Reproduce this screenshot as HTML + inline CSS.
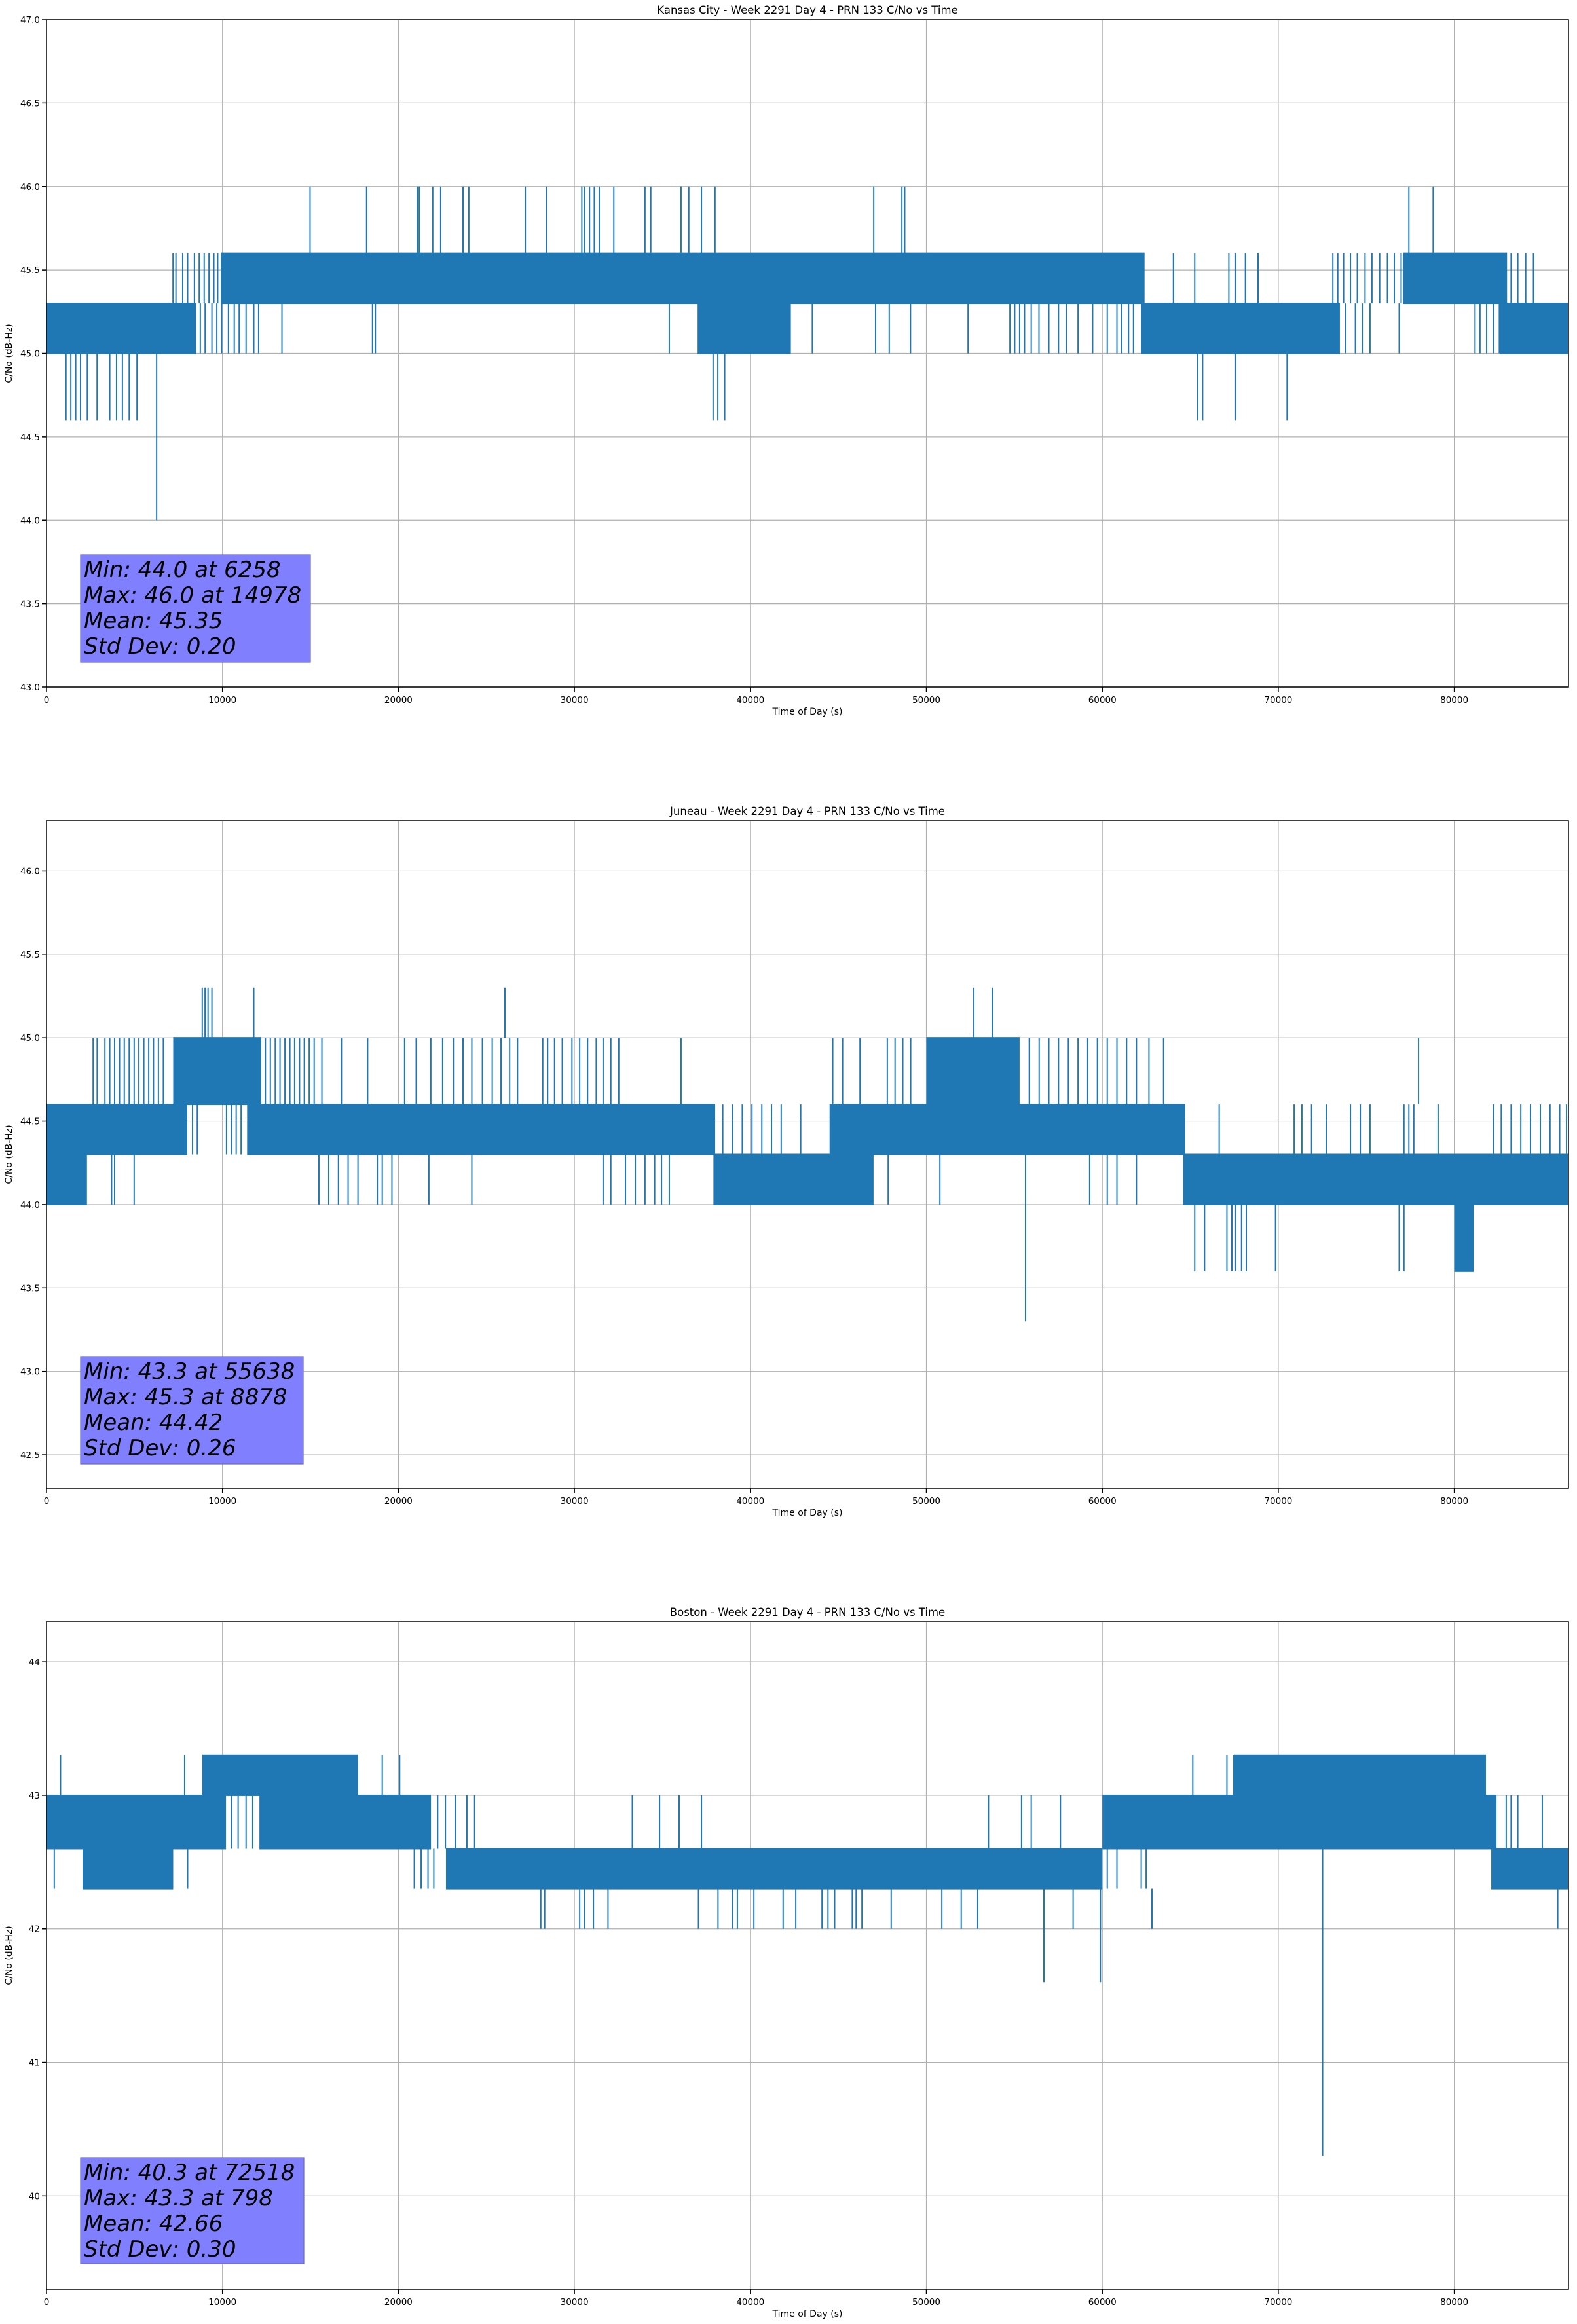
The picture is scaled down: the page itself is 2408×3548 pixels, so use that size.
<!DOCTYPE html>
<html><head><meta charset="utf-8">
<style>
html,body{margin:0;padding:0;background:#fff;}
svg{display:block;font-family:"DejaVu Sans","Liberation Sans",sans-serif;}
</style></head>
<body>
<svg id="fig" width="2408" height="3548" viewBox="0 0 2408 3548" xmlns="http://www.w3.org/2000/svg"></svg>
<script>
// ---------- Kansas City data ----------
const kcBandStart=[0,9900,37000,62200,77100,82600];
const kcBandEnd=[8500,62400,42300,73500,83000,86490];
const kcBandLo=[45.0,45.3,45.0,45.0,45.3,45.0];
const kcBandHi=[45.3,45.6,45.3,45.3,45.6,45.3];
const kcUpperLines=[7190,7355,7740,8020,8405,8680,8960,9235,9510,9730,64040,65250,67190,67580,68130,68850,73100,73380,73710,74100,74490,74930,75320,75760,76200,76590,76980,83230,83610,84060,84500];
const kcLowerLines=[8740,9015,9400,9680,9950,10340,10670,10950,11340,11780,12055,13380,18525,18690,35390,43520,47115,47890,49100,52370,54750,55020,55300,55580,55960,56400,56960,57510,57950,58620,59450,60280,60830,61100,61490,61770,73830,74380,74770,75210,76870,81180,81460,81840,82230,82560,82840];
const kcPeaks=[14978,18190,21070,21180,21950,22400,23670,24000,27210,28420,30420,30580,30860,31130,31410,32240,34010,34340,36060,36500,37220,37990,47010,48610,48770,77420,78800];
const kcDips=[1106,1383,1660,1935,2320,2875,3595,3980,4313,4700,5143,37880,38150,38540,65420,65700,67580,70500];
const kcMinT=[6258];
const kcYTicks=[43.0,43.5,44.0,44.5,45.0,45.5,46.0,46.5,47.0];
const kcStats=["Min: 44.0 at 6258","Max: 46.0 at 14978","Mean: 45.35","Std Dev: 0.20"];

// ---------- Juneau data ----------
const junBandStart=[0,0,11400,44500,7200,50000,37900,64600,80000];
const junBandEnd=[2300,8000,38000,64700,12200,55300,47000,86490,81100];
const junBandLo=[44.0,44.3,44.3,44.3,44.6,44.6,44.0,44.0,43.6];
const junBandHi=[44.3,44.6,44.6,44.6,45.0,45.0,44.3,44.3,44.0];
const junUpperLines=[2650,2880,3320,3595,3870,4150,4420,4700,4980,5250,5530,5810,6080,6360,6640,12440,12720,13000,13270,13550,13830,14100,14380,14650,14930,15210,15650,16760,18250,20350,21010,21840,22510,23120,23670,24170,24770,25330,25830,26320,26770,28200,28480,28870,29310,29860,30300,30750,31240,31630,32070,32520,36060,44680,45240,46230,47780,48220,48660,49110,55850,56410,56960,57510,58070,58620,59170,59720,60280,60830,61380,61940,62650,63480,77970];
const junMidLines=[8300,8570,10230,10510,10780,11060,38430,38990,39540,40090,40650,41200,41750,42860,66640,70900,71340,71890,72720,74100,74660,75210,77140,77420,77700,79080,82230,82670,83230,83780,84330,84890,85440,85990,86380];
const junLowerLines=[3700,3870,4980,15480,16040,16590,17140,17700,18800,19080,19630,21730,24170,31630,32070,32900,33460,34010,34560,34950,35390,47830,50770,59280,60280,60830,61940];
const junDips=[65250,65810,67080,67360,67580,67910,68180,69840,76870,77140];
const junPeaks=[8850,9010,9180,9400,11780,26050,52700,53750];
const junMinT=[55638];
const junYTicks=[42.5,43.0,43.5,44.0,44.5,45.0,45.5,46.0];
const junStats=["Min: 43.3 at 55638","Max: 45.3 at 8878","Mean: 44.42","Std Dev: 0.26"];

// ---------- Boston data ----------
const bosBandStart=[0,12100,2050,8850,22700,60000,67500,82100];
const bosBandEnd=[10200,21850,7200,17700,60000,82400,81800,86490];
const bosBandLo=[42.6,42.6,42.3,43.0,42.3,42.6,43.0,42.3];
const bosBandHi=[43.0,43.0,42.6,43.3,42.6,43.0,43.3,42.6];
const bosMidLines=[10510,10890,11340,11720,22230,22670,23230,23890,24330,33290,34840,35950,37220,53530,55410,55960,57620,82950,83230,83610,85000];
const bosLowLines=[440,8020,20900,21290,21680,22010,60280,60830,62210,62490];
const bosTopLines=[798,7850,19080,20070,65140,67080,67470];
const bosDips=[28090,28310,30300,30580,31080,31910,37050,38160,38990,39260,40200,41860,42580,44070,44410,44790,45790,46010,46340,48000,50880,51980,52920,56680,58340,59890,62820,85880];
const bosDeepDips=[56680,59890];
const bosMinT=[72518];
const bosYTicks=[40,41,42,43,44];
const bosStats=["Min: 40.3 at 72518","Max: 43.3 at 798","Mean: 42.66","Std Dev: 0.30"];

const xTicks=[0,10000,20000,30000,40000,50000,60000,70000,80000];
const X_MAX=86490;
const NS="http://www.w3.org/2000/svg";
const svg=document.getElementById('fig');
const BLUE="#1f77b4";
const L=71,R=2395,H=1019;

function mk(tag,attrs,parent){
  const e=document.createElementNS(NS,tag);
  for(const k in attrs)e.setAttribute(k,attrs[k]);
  (parent||svg).appendChild(e);return e;
}

function drawChart(top,yMin,yMax,yTicks,tickFmt,title,key,stats,statsBox,drawData){
  const g=mk('g',{});
  
  
  const bottom=top+H;
  const sx=t=>L+(t/X_MAX)*(R-L);
  const sy=v=>top+(yMax-v)/(yMax-yMin)*H;
  xTicks.forEach(t=>{
    const ln=mk('line',{x1:sx(t),x2:sx(t),y1:top,y2:bottom,stroke:'#b0b0b0','stroke-width':1.2},g);
    
    
  });
  yTicks.forEach(v=>{
    const ln=mk('line',{x1:L,x2:R,y1:sy(v),y2:sy(v),stroke:'#b0b0b0','stroke-width':1.2},g);
    
    
  });
  const dg=mk('g',{},g);
  
  
  drawData(dg,sx,sy);
  const sb=mk('g',{},g);
  
  
  mk('rect',{x:statsBox[0],y:statsBox[1],width:statsBox[2],height:statsBox[3],fill:'#8080ff',stroke:'#6a6ab0','stroke-width':1.2},sb);
  stats.forEach((s,i)=>{
    const t=mk('text',{x:statsBox[0]+5,y:statsBox[1]+34+i*39,'font-size':34,'font-style':'italic',fill:'#000'},sb);
    t.textContent=s;
    
    
  });
  const fr=mk('rect',{x:L,y:top,width:R-L,height:H,fill:'none',stroke:'#000','stroke-width':1.5},g);
  
  
  xTicks.forEach(t=>{
    mk('line',{x1:sx(t),x2:sx(t),y1:bottom,y2:bottom+7,stroke:'#000','stroke-width':1.5},g);
    const tx=mk('text',{x:sx(t),y:bottom+24,'font-size':13.5,'text-anchor':'middle',fill:'#000'},g);
    tx.textContent=String(t);
    
    
  });
  yTicks.forEach(v=>{
    mk('line',{x1:L-7,x2:L,y1:sy(v),y2:sy(v),stroke:'#000','stroke-width':1.5},g);
    const ty=mk('text',{x:L-10,y:sy(v)+5,'font-size':13.5,'text-anchor':'end',fill:'#000'},g);
    ty.textContent=tickFmt(v);
    
    
  });
  const xl=mk('text',{x:(L+R)/2,y:bottom+42,'font-size':14,'text-anchor':'middle',fill:'#000'},g);
  xl.textContent='Time of Day (s)';
  
  
  const yl=mk('text',{x:0,y:0,'font-size':14,'text-anchor':'middle',fill:'#000',transform:`translate(18,${top+H/2}) rotate(-90)`},g);
  yl.textContent='C/No (dB-Hz)';
  
  
  const tt=mk('text',{x:(L+R)/2,y:top-9,'font-size':16.5,'text-anchor':'middle',fill:'#000'},g);
  tt.textContent=title;
  
  
}

function bands(g,sx,sy,st,en,lo,hi){
  for(let i=0;i<st.length;i++){
    const r=mk('rect',{x:sx(st[i]),y:sy(hi[i])-1,width:Math.max(1,sx(en[i])-sx(st[i])),height:sy(lo[i])-sy(hi[i])+2,fill:BLUE},g);
    
    
  }
}
function vlines(g,sx,sy,ts,from,to){
  ts.forEach(t=>{
    const l=mk('line',{x1:sx(t),x2:sx(t),y1:sy(from),y2:sy(to),stroke:BLUE,'stroke-width':2},g);
    
    
  });
}

drawChart(30,43,47,kcYTicks,v=>v.toFixed(1),'Kansas City - Week 2291 Day 4 - PRN 133 C/No vs Time','kansas-city',kcStats,[123,847,351,164],(g,sx,sy)=>{
  bands(g,sx,sy,kcBandStart,kcBandEnd,kcBandLo,kcBandHi);
  vlines(g,sx,sy,kcUpperLines,45.3,45.6);
  vlines(g,sx,sy,kcLowerLines,45.0,45.3);
  vlines(g,sx,sy,kcPeaks,45.6,46.0);
  vlines(g,sx,sy,kcDips,45.0,44.6);
  vlines(g,sx,sy,kcMinT,45.0,44.0);
});

drawChart(1253,42.3,46.3,junYTicks,v=>v.toFixed(1),'Juneau - Week 2291 Day 4 - PRN 133 C/No vs Time','juneau',junStats,[123,2071,340,164],(g,sx,sy)=>{
  bands(g,sx,sy,junBandStart,junBandEnd,junBandLo,junBandHi);
  vlines(g,sx,sy,junUpperLines,44.6,45.0);
  vlines(g,sx,sy,junMidLines,44.3,44.6);
  vlines(g,sx,sy,junLowerLines,44.0,44.3);
  vlines(g,sx,sy,junDips,44.0,43.6);
  vlines(g,sx,sy,junPeaks,45.0,45.3);
  vlines(g,sx,sy,junMinT,44.3,43.3);
});

drawChart(2476,39.3,44.3,bosYTicks,v=>String(v),'Boston - Week 2291 Day 4 - PRN 133 C/No vs Time','boston',bosStats,[123,3294,341,162],(g,sx,sy)=>{
  bands(g,sx,sy,bosBandStart,bosBandEnd,bosBandLo,bosBandHi);
  vlines(g,sx,sy,bosMidLines,42.6,43.0);
  vlines(g,sx,sy,bosLowLines,42.3,42.6);
  vlines(g,sx,sy,bosTopLines,43.0,43.3);
  vlines(g,sx,sy,bosDips,42.3,42.0);
  vlines(g,sx,sy,bosDeepDips,42.3,41.6);
  vlines(g,sx,sy,bosMinT,42.6,40.3);
});
</script>
</body></html>
